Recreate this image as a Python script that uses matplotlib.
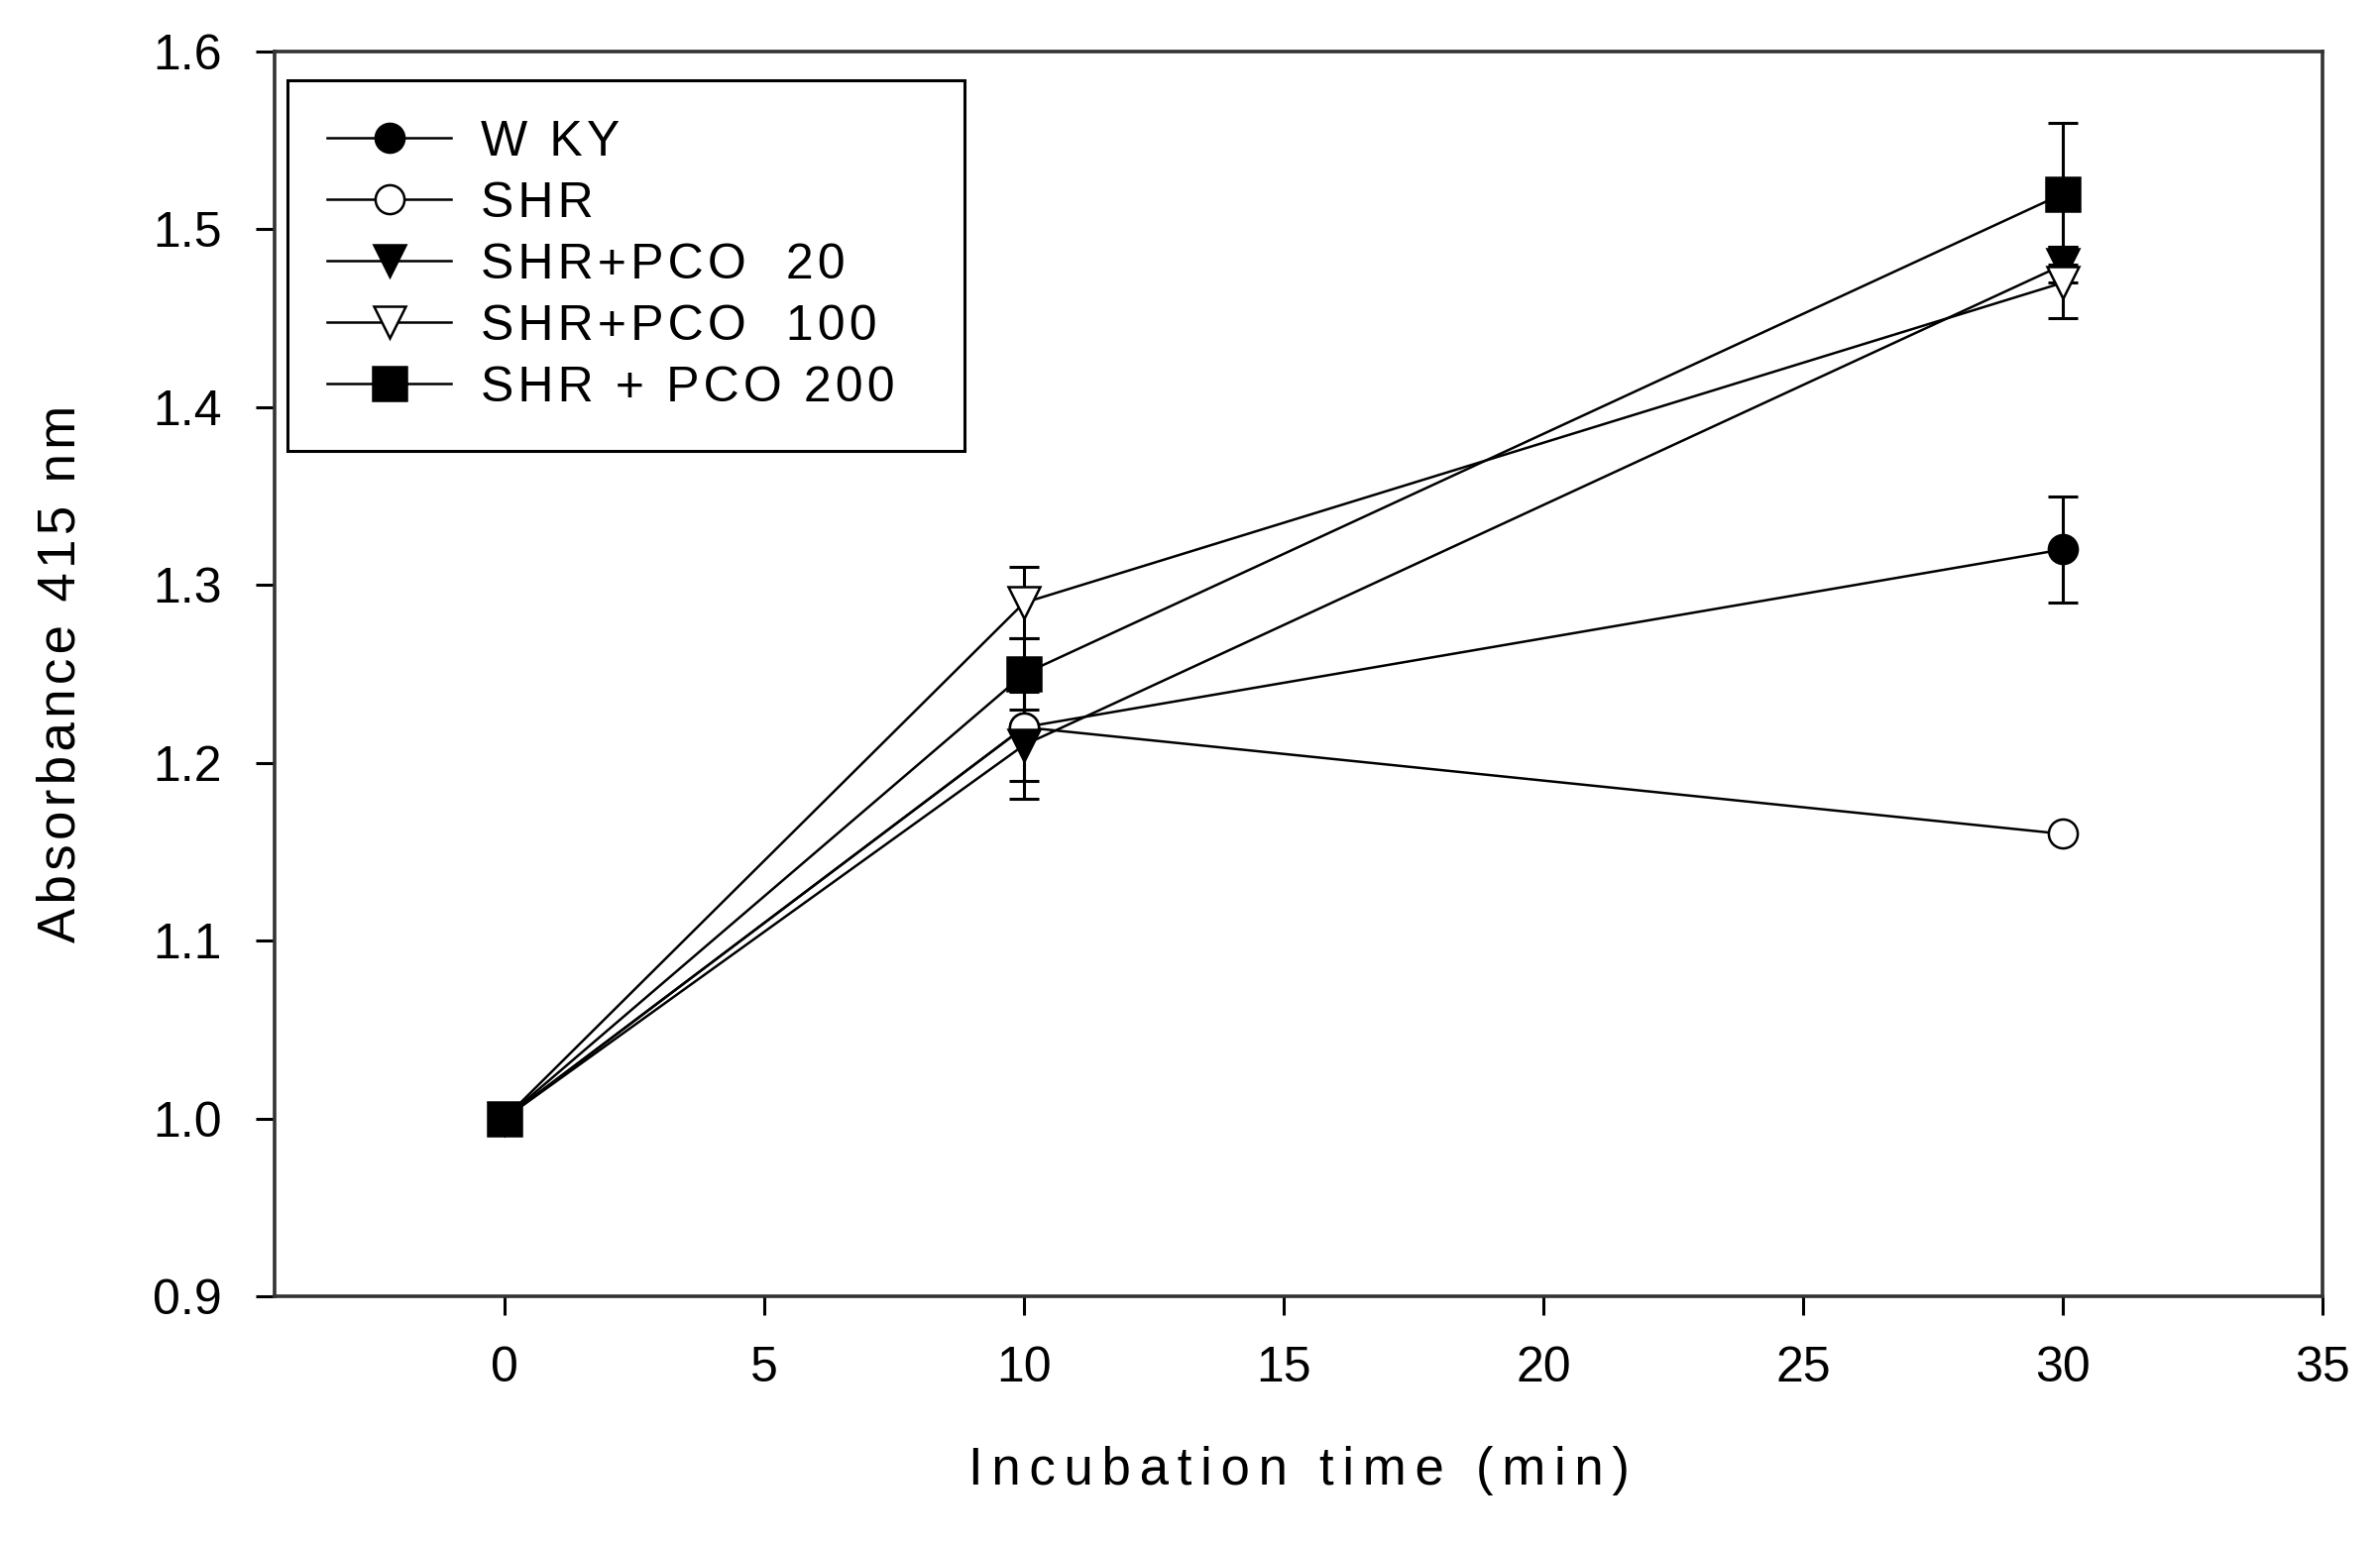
import numpy as np
import matplotlib
matplotlib.use("Agg")
import matplotlib.pyplot as plt

plt.rcParams["font.family"] = ["Liberation Sans", "DejaVu Sans"]

# datos
tiempo = np.array([0, 10, 30])
etiquetas = ["W KY", "SHR", "SHR+PCO  20", "SHR+PCO  100", "SHR + PCO 200"]
wky = np.array([1.00, 1.22, 1.32])
shr = np.array([1.00, 1.22, 1.16])
pco20 = np.array([1.00, 1.21, 1.48])
pco100 = np.array([1.00, 1.29, 1.47])
pco200 = np.array([1.00, 1.25, 1.52])
err_wky = np.array([0.0, 0.03, 0.03])
err_shr = np.array([0.0, 0.0, 0.0])
err_pco20 = np.array([0.0, 0.03, 0.01])
err_pco100 = np.array([0.0, 0.02, 0.02])
err_pco200 = np.array([0.0, 0.02, 0.04])

series = [wky, shr, pco20, pco100, pco200]
errores = [err_wky, err_shr, err_pco20, err_pco100, err_pco200]
marcadores = ["o", "o", "v", "v", "s"]
rellenos = ["black", "white", "black", "white", "black"]
tamanos = [21, 21, 23, 23, 25]


def espaciar(texto, n=1):
    # el original tiene las letras algo separadas
    return ("\u200a" * n).join(texto)


fig = plt.figure(figsize=(24.01, 15.6), dpi=100)
ax = fig.add_axes([277 / 2401, 1 - 1308 / 1560, 2066 / 2401, 1256 / 1560])

for y, e, m, c, t, lab in zip(series, errores, marcadores, rellenos, tamanos, etiquetas):
    hay = e > 0
    ax.errorbar(tiempo[hay], y[hay], yerr=e[hay], fmt="none", ecolor="black",
                elinewidth=2.2, capsize=11, capthick=2.2, zorder=2)
    ax.plot(tiempo, y, color="black", lw=1.8, marker=m, markersize=t,
            markerfacecolor=c, markeredgecolor="black", markeredgewidth=1.8,
            label=espaciar(lab), zorder=3)

ax.set_xlim(-4.43, 35)
ax.set_ylim(0.9, 1.6)
ax.set_xticks([0, 5, 10, 15, 20, 25, 30, 35])
ax.set_yticks(np.arange(0.9, 1.61, 0.1))
ax.yaxis.set_major_formatter(matplotlib.ticker.FormatStrFormatter("%.1f"))
ax.tick_params(direction="out", length=14, width=2.2, labelsize=36)
ax.tick_params(axis="x", pad=22)
ax.tick_params(axis="y", pad=24)

for s in ax.spines.values():
    s.set_linewidth(2.6)
    s.set_color("#333333")

ax.set_xlabel(espaciar("Incubation time (min)", 2), fontsize=38)
ax.set_ylabel(espaciar("Absorbance 415 nm"), fontsize=38)
ax.xaxis.set_label_coords(0.5, -0.12)
ax.yaxis.set_label_coords(-0.092, 0.5)

leg = ax.legend(loc="upper left", bbox_to_anchor=(0.0063, 0.5, 0.3306, 0.477),
                mode="expand", borderaxespad=0, fontsize=36, frameon=True,
                fancybox=False, edgecolor="black", framealpha=1,
                borderpad=0.8, labelspacing=0.32, handlelength=2.5,
                handletextpad=0.6)
leg.get_frame().set_linewidth(2.2)

fig.savefig("out.png", dpi=100)
